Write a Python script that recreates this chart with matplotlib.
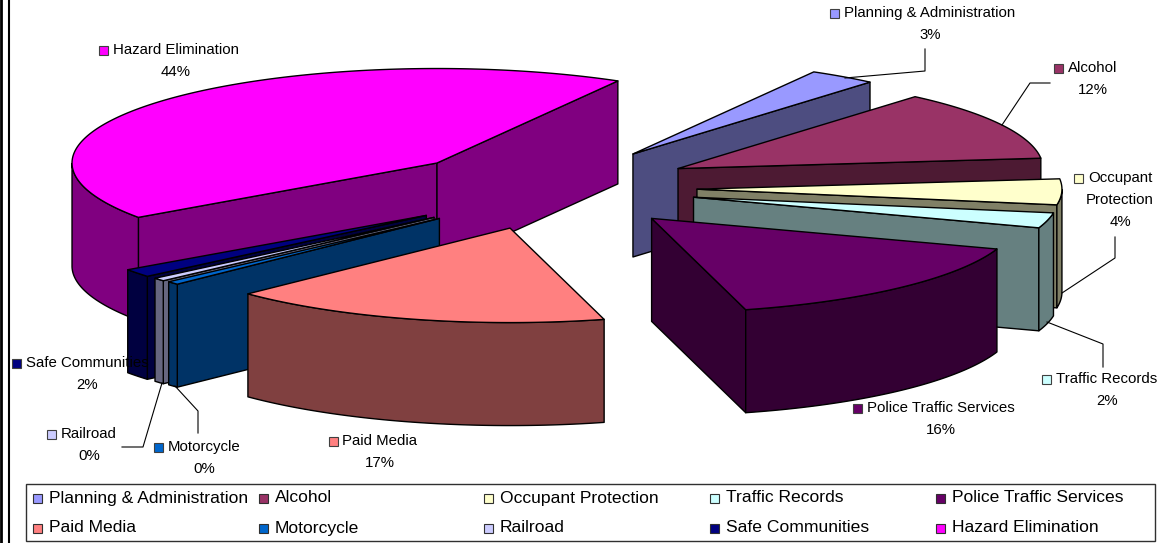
import numpy as np
import matplotlib
matplotlib.use('Agg')
import matplotlib.pyplot as plt
from matplotlib.patches import Polygon, Rectangle

categories = ['Planning & Administration', 'Alcohol', 'Occupant Protection', 'Traffic Records',
              'Police Traffic Services', 'Paid Media', 'Motorcycle', 'Railroad', 'Safe Communities',
              'Hazard Elimination']
# percentages as printed on the chart
printed_pct = [3, 12, 4, 2, 16, 17, 0, 0, 2, 44]
# shares as measured from the slice angles in the picture
shares = [3.0, 12.0, 4.4, 2.6, 15.6, 16.9, 0.55, 0.55, 1.4, 43.0]
colors = ['#9999FF', '#993366', '#FFFFCC', '#CCFFFF', '#660066', '#FF8080', '#0066CC', '#CCCCFF',
          '#000080', '#FF00FF']

# label text lines / position, leader points
label_lines = [['Planning & Administration'], ['Alcohol'], ['Occupant', 'Protection'], ['Traffic Records'],
               ['Police Traffic Services'], ['Paid Media'], ['Motorcycle'], ['Railroad'],
               ['Safe Communities'], ['Hazard Elimination']]
label_pos = [(930, 13), (1093, 68), (1120, 178), (1107, 379), (941, 408), (380, 441), (204, 447), (89, 434),
             (87, 363), (176, 50)]
leaders = [[(925, 49), (925, 71), (845, 78)],
           [(1050, 83), (1030, 83), (1002, 125)],
           [(1115, 237), (1115, 258), (1062, 293)],
           [(1103, 367), (1103, 344), (1047, 322)],
           None, None,
           [(198, 433), (198, 411), (175, 386)],
           [(122, 447), (143, 447), (162, 383)],
           None, None]

# pie geometry in image pixels
cx, cy = 549, 188
rx, ry = 365, 94.5
depth = 103
explode_x, explode_y = 0.40, 0.44
start_phi = 60.3
# small per slice shifts, the real chart has a bit of perspective
nudge = [(0, 0), (0, 0), (2, 0), (3, -1), (3, 0), (0, 0), (-3, 2), (-5, 2), (-7, 2), (-4, 3)]
# painter order, back to front
draw_order = [9, 8, 7, 6, 5, 0, 1, 2, 3, 4]

plt.rcParams['font.family'] = ['Liberation Sans', 'DejaVu Sans']
fig = plt.figure(figsize=(11.64, 5.43), dpi=100)
ax = fig.add_axes([0, 0, 1, 1])
ax.set_xlim(0, 1164)
ax.set_ylim(543, 0)
ax.axis('off')


def darker(c):
    r, g, b = matplotlib.colors.to_rgb(c)
    return (r * 0.5, g * 0.5, b * 0.5)


def pt(phi):
    return np.array([rx * np.cos(np.radians(phi)), -ry * np.sin(np.radians(phi))])


total = sum(shares)
cum = np.cumsum([0] + shares) / total
z = 0
for i in draw_order:
    phi1 = start_phi - 360 * cum[i]
    phi2 = start_phi - 360 * cum[i + 1]
    mid = (phi1 + phi2) / 2
    apex = np.array([cx, cy]) + np.array([explode_x, explode_y]) * pt(mid) + np.array(nudge[i])
    phis = np.linspace(phi1, phi2, max(3, int(abs(phi1 - phi2) * 1.5)))
    arc = np.array([apex + pt(p) for p in phis])
    down = np.array([0, depth])
    wall = darker(colors[i])
    style = dict(edgecolor='black', linewidth=1.0, joinstyle='round')
    z += 1
    # radial walls, only the ones facing the viewer
    if np.cos(np.radians(phi1)) < 0:
        ax.add_patch(Polygon([apex, arc[0], arc[0] + down, apex + down], facecolor=wall, zorder=z, **style))
    if np.cos(np.radians(phi2)) > 0:
        ax.add_patch(Polygon([apex, arc[-1], arc[-1] + down, apex + down], facecolor=wall, zorder=z, **style))
    # rim, lower half of the ellipse only
    front = [k for k, p in enumerate(phis) if np.sin(np.radians(p)) < 0]
    if len(front) > 1:
        rim = arc[front]
        ax.add_patch(Polygon(np.vstack([rim, (rim + down)[::-1]]), facecolor=wall, zorder=z, **style))
    ax.add_patch(Polygon(np.vstack([[apex], arc]), facecolor=colors[i], zorder=z, **style))

# leaders
for pts in leaders:
    if pts:
        xs, ys = zip(*pts)
        ax.plot(xs, ys, color='black', lw=0.8, zorder=30)

# data labels
lab_fs = 10.8
for i, lines in enumerate(label_lines):
    x, y = label_pos[i]
    pct = '%d%%' % printed_pct[i]
    w = ax.text(x, y, lines[0], fontsize=lab_fs, ha='center', va='center', color='black', zorder=40)
    bb = w.get_window_extent(fig.canvas.get_renderer())
    ax.add_patch(Rectangle((bb.x0 - 14, y - 4.5), 9, 9, facecolor=colors[i], edgecolor='#404040', lw=0.8, zorder=40))
    for k, t in enumerate(lines[1:] + [pct]):
        ax.text(x, y + 22 * (k + 1), t, fontsize=lab_fs, ha='center', va='center', color='black', zorder=40)

# legend box
ax.add_patch(Rectangle((26, 484), 1129, 57, facecolor='white', edgecolor='#303030', lw=1.0, zorder=50))
col_x = [33, 259, 484, 710, 936]
row_y = [498, 528]
for i, name in enumerate(categories):
    lx = col_x[i % 5]
    ly = row_y[i // 5]
    ax.add_patch(Rectangle((lx, ly - 4.5), 9, 9, facecolor=colors[i], edgecolor='#303030', lw=0.8, zorder=51))
    ax.text(lx + 16, ly, name, fontsize=12.6, ha='left', va='center', color='black', zorder=51)

# page border at left
ax.plot([1, 1], [0, 543], color='black', lw=2)
ax.plot([9, 9], [0, 543], color='black', lw=1.5)

fig.savefig('out.png', dpi=100)
